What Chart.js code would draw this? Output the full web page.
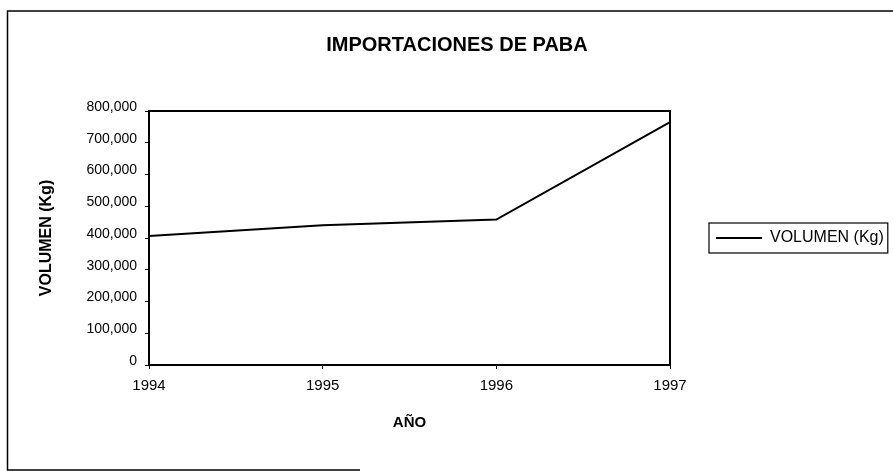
<!DOCTYPE html>
<html>
<head>
<meta charset="utf-8">
<script src="https://cdn.jsdelivr.net/npm/chart.js@4"></script>
<style>
  html, body { margin: 0; padding: 0; background: #ffffff; }
  #wrap { width: 893px; height: 471px; }
</style>
</head>
<body>
<div id="wrap"><canvas id="c" width="893" height="471"></canvas></div>
<script>
// ---- data ----
const categories = ['1994', '1995', '1996', '1997'];
const volumenKg = [406000, 440000, 458000, 765000];
const seriesLabel = 'VOLUMEN (Kg)';
const chartTitle = 'IMPORTACIONES DE PABA';
const xAxisTitle = 'AÑO';
const yAxisTitle = 'VOLUMEN (Kg)';
const yMin = 0, yMax = 800000, yStep = 100000;

const FONT = "'Liberation Sans', Arial, Helvetica, sans-serif";

const framePlugin = {
  id: 'frame',
  beforeDraw(chart) {
    const ctx = chart.ctx;
    ctx.save();
    ctx.fillStyle = '#ffffff';
    ctx.fillRect(0, 0, chart.width, chart.height);
    ctx.restore();
  },
  afterDraw(chart) {
    const ctx = chart.ctx;
    const a = chart.chartArea;
    ctx.save();
    ctx.strokeStyle = '#000';
    // outer frame (left, top, bottom)
    ctx.lineWidth = 1.5;
    ctx.beginPath();
    ctx.moveTo(893, 11); ctx.lineTo(7.5, 11); ctx.lineTo(7.5, 470); ctx.lineTo(360, 470);
    ctx.stroke();
    // plot area border
    ctx.lineWidth = 2;
    ctx.strokeRect(a.left, a.top, a.right - a.left, a.bottom - a.top);
    // legend border
    const lg = chart.legend;
    if (lg && lg.legendHitBoxes && lg.legendHitBoxes.length) {
      const hb = lg.legendHitBoxes[0];
      ctx.lineWidth = 1.2;
      ctx.strokeRect(hb.left - 7, hb.top - 7, hb.width + 11, hb.height + 14);
    }
    ctx.restore();
  }
};

new Chart(document.getElementById('c'), {
  type: 'line',
  data: {
    labels: categories,
    datasets: [{
      label: seriesLabel,
      data: volumenKg,
      borderColor: '#000000',
      backgroundColor: '#000000',
      borderWidth: 2,
      pointRadius: 0,
      tension: 0,
      fill: false
    }]
  },
  options: {
    responsive: false,
    devicePixelRatio: 1,
    animation: false,
    layout: { padding: { left: 21, right: 0, top: 0, bottom: 0 } },
    plugins: {
      title: {
        display: true,
        text: chartTitle,
        color: '#000',
        font: { family: FONT, size: 20, weight: 'bold', lineHeight: 1.2 },
        padding: { top: 33, bottom: 54 }
      },
      legend: {
        display: true,
        position: 'right',
        fullSize: false,
        maxWidth: 223,
        labels: {
          color: '#000',
          font: { family: FONT, size: 16 },
          usePointStyle: true,
          pointStyle: 'line',
          pointStyleWidth: 46,
          boxWidth: 46,
          padding: 46
        }
      },
      tooltip: { enabled: false }
    },
    scales: {
      x: {
        type: 'category',
        offset: false,
        grid: { display: true, drawOnChartArea: false, drawTicks: true, tickLength: 4, color: '#000' },
        border: { display: true, color: '#000', width: 2 },
        ticks: { color: '#000', font: { family: FONT, size: 15 }, padding: 8, maxRotation: 0 },
        title: {
          display: true, text: xAxisTitle, color: '#000',
          font: { family: FONT, size: 15, weight: 'bold', lineHeight: 1.2 },
          padding: { top: 0, bottom: 39 }
        },
        afterFit(scale) { scale.height = 106; }
      },
      y: {
        min: yMin, max: yMax,
        grid: { display: true, drawOnChartArea: false, drawTicks: true, tickLength: 4, color: '#000' },
        border: { display: true, color: '#000', width: 2 },
        ticks: {
          stepSize: yStep, color: '#000', font: { family: FONT, size: 14 }, padding: 8, labelOffset: -4,
          callback: (v) => Number(v).toLocaleString('en-US')
        },
        title: {
          display: true, text: yAxisTitle, color: '#000',
          font: { family: FONT, size: 16, weight: 'bold', lineHeight: 1.2 },
          padding: { top: 16, bottom: 0 }
        },
        afterFit(scale) { scale.width = 128; }
      }
    }
  },
  plugins: [framePlugin]
});
</script>
</body>
</html>
